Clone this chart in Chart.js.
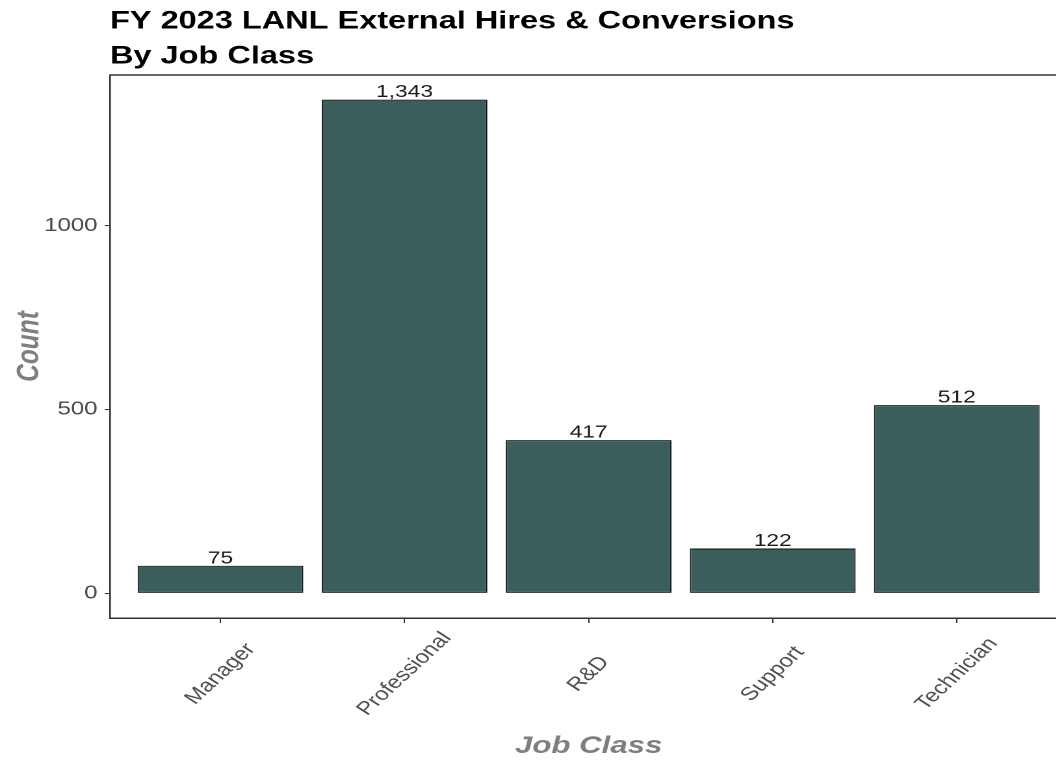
<!DOCTYPE html>
<html>
<head>
<meta charset="utf-8">
<script src="https://cdn.jsdelivr.net/npm/chart.js@4"></script>
<style>
  html, body { margin: 0; padding: 0; background: #ffffff; overflow: hidden; width: 1056px; height: 762px; }
  #wrap { width: 830px; height: 762px; transform: scaleX(1.3); transform-origin: 0 0; }
</style>
</head>
<body>
<div id="wrap"><canvas id="c" width="830" height="762"></canvas></div>
<script>
const titleLines = ["FY 2023 LANL External Hires & Conversions", "By Job Class"];
const categories = ["Manager", "Professional", "R&D", "Support", "Technician"];
const counts = [75, 1343, 417, 122, 512];
const countLabels = ["75", "1,343", "417", "122", "512"];
const yTicks = [0, 500, 1000];

const FONT = "'Liberation Sans', Arial, sans-serif";

const points = categories.map((c, i) => ({ x: i + 1, y: counts[i] }));

const decorations = {
  id: 'decorations',
  afterDraw(chart) {
    const ctx = chart.ctx;
    const area = chart.chartArea;
    const xs = chart.scales.x;
    // top panel line
    ctx.save();
    ctx.strokeStyle = '#333333';
    ctx.lineWidth = 1.5;
    ctx.beginPath();
    ctx.moveTo(area.left, area.top);
    ctx.lineTo(area.right + 20, area.top);
    ctx.stroke();
    ctx.restore();

    // value labels above bars
    const meta = chart.getDatasetMeta(0);
    ctx.save();
    ctx.font = "17.5px " + FONT;
    ctx.fillStyle = '#1a1a1a';
    ctx.textAlign = 'center';
    ctx.textBaseline = 'alphabetic';
    meta.data.forEach((bar, i) => {
      ctx.fillText(countLabels[i], bar.x, bar.y - 2.5);
    });
    ctx.restore();

    // rotated category labels centred on the ticks
    ctx.save();
    ctx.font = "18.5px " + FONT;
    ctx.fillStyle = '#4d4d4d';
    ctx.textAlign = 'center';
    ctx.textBaseline = 'middle';
    categories.forEach((c, i) => {
      const px = xs.getPixelForValue(i + 1);
      ctx.save();
      ctx.translate(px, 674);
      ctx.rotate(-50 * Math.PI / 180);
      ctx.fillText(c, 0, 0);
      ctx.restore();
    });
    ctx.restore();
  }
};

new Chart(document.getElementById('c'), {
  type: 'bar',
  data: {
    datasets: [{
      data: points,
      backgroundColor: '#3b5e5d',
      borderColor: '#111111',
      borderWidth: 1,
      borderSkipped: false,
      barPercentage: 0.9,
      categoryPercentage: 1.0
    }]
  },
  options: {
    responsive: false,
    animation: false,
    devicePixelRatio: 2,
    layout: { padding: { left: 0, right: 9, top: 0, bottom: 0 } },
    plugins: {
      legend: { display: false },
      tooltip: { enabled: false },
      title: {
        display: true,
        text: titleLines,
        align: 'start',
        fullSize: false,
        color: '#000000',
        font: { family: FONT, size: 25, weight: 'bold', lineHeight: 1.4 },
        padding: { top: 4, bottom: 1 }
      }
    },
    scales: {
      x: {
        type: 'linear',
        min: 0.4,
        max: 5.6,
        offset: false,
        afterBuildTicks(scale) {
          scale.ticks = categories.map((c, i) => ({ value: i + 1 }));
        },
        afterFit(scale) { scale.height = 144; },
        ticks: { display: false },
        grid: {
          offset: false,
          drawOnChartArea: false,
          drawTicks: true,
          tickLength: 5,
          color: '#333333',
          lineWidth: 1
        },
        border: { display: true, color: '#333333', width: 1.5 },
        title: {
          display: true,
          text: 'Job Class',
          color: '#7f7f7f',
          font: { family: FONT, size: 24, weight: 'bold', style: 'italic', lineHeight: 1.2 },
          padding: { top: 0, bottom: 1 }
        }
      },
      y: {
        type: 'linear',
        min: -67,
        max: 1410,
        afterBuildTicks(scale) {
          scale.ticks = yTicks.map(v => ({ value: v }));
        },
        afterFit(scale) { scale.width = 84.6; },
        ticks: {
          color: '#4d4d4d',
          font: { family: FONT, size: 18.5 },
          padding: 5.5,
          callback: (v) => String(v)
        },
        grid: {
          drawOnChartArea: false,
          drawTicks: true,
          tickLength: 4,
          color: '#333333',
          lineWidth: 1
        },
        border: { display: true, color: '#333333', width: 1.3 },
        title: {
          display: true,
          text: 'Count',
          color: '#7f7f7f',
          font: { family: FONT, size: 24.5, weight: 'bold', style: 'italic', lineHeight: 1.2 },
          padding: { top: 8, bottom: 0 }
        }
      }
    }
  },
  plugins: [decorations]
});
</script>
</body>
</html>
